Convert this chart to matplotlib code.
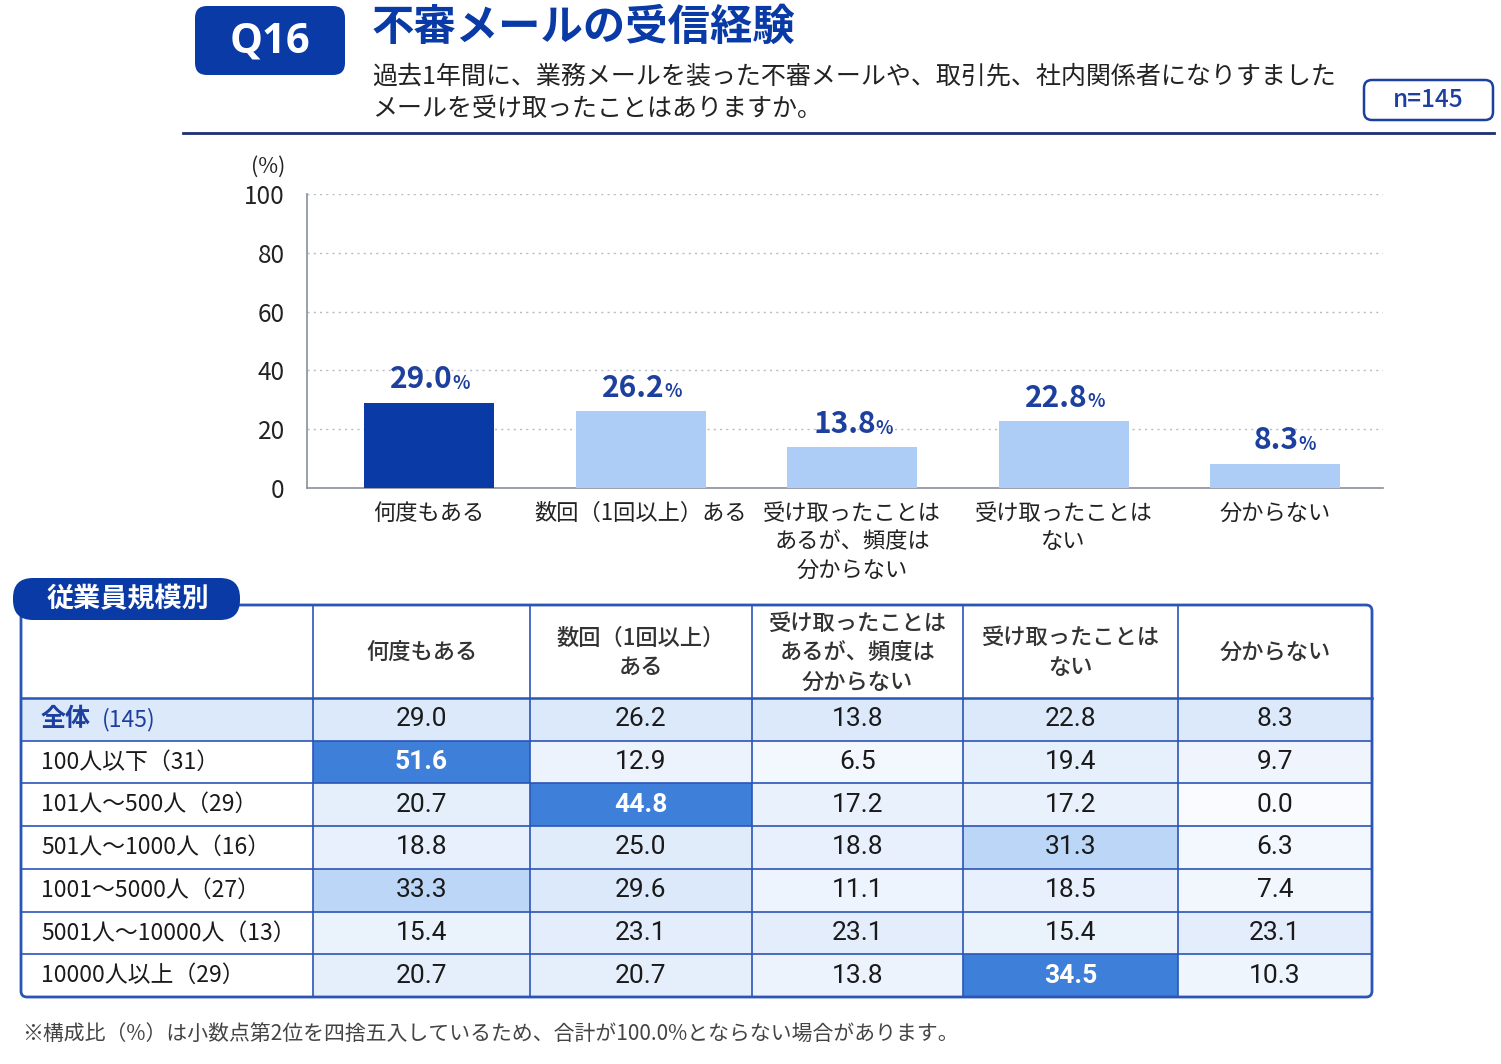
import numpy as np
import matplotlib.pyplot as plt
from matplotlib.patches import Rectangle, FancyBboxPatch

plt.rcParams['font.family'] = ['Noto Sans CJK JP', 'DejaVu Sans']

# ---- data ----
categories = ["何度もある", "数回（1回以上）ある", "受け取ったことは\nあるが、頻度は\n分からない",
              "受け取ったことは\nない", "分からない"]
overall = [29.0, 26.2, 13.8, 22.8, 8.3]
yticks = [0, 20, 40, 60, 80, 100]

col_headers = ["何度もある", "数回（1回以上）\nある", "受け取ったことは\nあるが、頻度は\n分からない",
               "受け取ったことは\nない", "分からない"]
row_labels = ["100人以下（31）", "101人～500人（29）", "501人～1000人（16）", "1001～5000人（27）",
              "5001人～10000人（13）", "10000人以上（29）"]
table_vals = np.array([
    [51.6, 12.9, 6.5, 19.4, 9.7],
    [20.7, 44.8, 17.2, 17.2, 0.0],
    [18.8, 25.0, 18.8, 31.3, 6.3],
    [33.3, 29.6, 11.1, 18.5, 7.4],
    [15.4, 23.1, 23.1, 15.4, 23.1],
    [20.7, 20.7, 13.8, 34.5, 10.3],
])

DARK = "#0a3aa6"
NAVY = "#1d3f9e"
LINE = "#2b55b5"

fig = plt.figure(figsize=(15.01, 10.64), dpi=100)
W, H = 1501, 1064

# background axes in pixel coords
ax0 = fig.add_axes([0, 0, 1, 1])
ax0.set_xlim(0, W)
ax0.set_ylim(H, 0)
ax0.axis("off")

# ---- header ----
ax0.add_patch(FancyBboxPatch((195, 6), 150, 69, boxstyle="round,pad=0,rounding_size=12",
                             fc=DARK, ec="none"))
ax0.text(270, 42, "Q16", color="white", fontsize=30, fontweight="bold", ha="center", va="center",
         family=["Open Sans", "DejaVu Sans"])
ax0.text(372, 28, "不審メールの受信経験", color=DARK, fontsize=30.5, fontweight="bold", va="center")
ax0.text(372, 76, "過去1年間に、業務メールを装った不審メールや、取引先、社内関係者になりすました",
         color="#222222", fontsize=18, va="center")
ax0.text(372, 109, "メールを受け取ったことはありますか。", color="#222222", fontsize=18, va="center")
ax0.add_patch(FancyBboxPatch((1364, 80), 129, 40, boxstyle="round,pad=0,rounding_size=8",
                             fc="white", ec=NAVY, lw=1.8))
ax0.text(1428, 100, "n=145", color=NAVY, fontsize=17.5, ha="center", va="center", fontweight="medium")
ax0.plot([183, 1494], [133, 133], color="#1c2f70", lw=2)

# ---- bar chart ----
bx0, bx1, by0, by1 = 307, 1383, 488, 194
ax = fig.add_axes([bx0 / W, 1 - by0 / H, (bx1 - bx0) / W, (by0 - by1) / H])
x = np.arange(len(categories))
colors = [DARK] + ["#aecdf6"] * (len(categories) - 1)
ax.bar(x, overall, width=0.615, color=colors, zorder=3)
ax.set_xlim(-0.577, 4.51)
ax.set_ylim(0, 100)
ax.set_yticks(yticks)
ax.set_yticklabels([str(t) for t in yticks], fontsize=17.5, color="#222222")
ax.yaxis.grid(True, linestyle=(0, (1.5, 3)), color="#b8bcc4", lw=1)
ax.set_axisbelow(True)
ax.set_xticks(x)
ax.set_xticklabels(categories, fontsize=16, color="#222222", linespacing=1.3, va="top")
ax.tick_params(axis="both", length=0, pad=10)
ax.tick_params(axis="y", pad=16)
for s in ["top", "right"]:
    ax.spines[s].set_visible(False)
ax.spines["left"].set_color("#8a8f99")
ax.spines["bottom"].set_color("#8a8f99")
ax.spines["left"].set_linewidth(1.2)
ax.spines["bottom"].set_linewidth(1.2)
for xi, v in zip(x, overall):
    ax.annotate(f"{v:.1f}", (xi, v), xytext=(17, 6), textcoords="offset points",
                ha="right", va="bottom", fontsize=21.5, fontweight="bold", color=NAVY)
    ax.annotate("%", (xi, v), xytext=(17, 7), textcoords="offset points",
                ha="left", va="bottom", fontsize=13, fontweight="bold", color=NAVY)
ax0.text(268, 167, "(%)", fontsize=15.5, ha="center", va="center", color="#222222")

# ---- table ----
col_x = [21, 313, 530, 752, 963, 1178, 1372]
top, head_bot = 605, 698
row_h = (997 - head_bot) / 7
row_y = [head_bot + i * row_h for i in range(8)]


def cell_color(v):
    if v >= 34:
        return "#3d7fd9"
    if v >= 30:
        return "#bcd6f7"
    t = v / 30
    c0 = np.array([0xf9, 0xfb, 0xff]) / 255
    c1 = np.array([0xdc, 0xe9, 0xfa]) / 255
    return tuple(c0 + (c1 - c0) * t)


# header row
ax0.add_patch(Rectangle((col_x[0], top), col_x[-1] - col_x[0], head_bot - top, fc="white", ec="none"))
for j, h in enumerate(col_headers):
    cx = (col_x[j + 1] + col_x[j + 2]) / 2
    ax0.text(cx, (top + head_bot) / 2 + 1, h, fontsize=16, ha="center", va="center",
             color="#333333", linespacing=1.35, fontweight="medium")

# overall row
ax0.add_patch(Rectangle((col_x[0], row_y[0]), col_x[-1] - col_x[0], row_h, fc="#dce9fa", ec="none"))
ax0.text(41, row_y[0] + row_h / 2, "全体", fontsize=18, fontweight="bold", color=NAVY, va="center")
ax0.text(102, row_y[0] + row_h / 2, "(145)", fontsize=16.5, color=NAVY, va="center")
for j, v in enumerate(overall):
    cx = (col_x[j + 1] + col_x[j + 2]) / 2
    ax0.text(cx, row_y[0] + row_h / 2, f"{v:.1f}", fontsize=19, ha="center", va="center",
             color="#1a1a1a", family=["Roboto", "DejaVu Sans"])

# size rows
for i, lab in enumerate(row_labels):
    y0 = row_y[i + 1]
    ax0.add_patch(Rectangle((col_x[0], y0), col_x[1] - col_x[0], row_h, fc="white", ec="none"))
    ax0.text(41, y0 + row_h / 2, lab, fontsize=16.5, color="#1a1a1a", va="center")
    for j in range(len(col_headers)):
        v = table_vals[i, j]
        ax0.add_patch(Rectangle((col_x[j + 1], y0), col_x[j + 2] - col_x[j + 1], row_h,
                                fc=cell_color(v), ec="none"))
        ax0.text((col_x[j + 1] + col_x[j + 2]) / 2, y0 + row_h / 2, f"{v:.1f}", fontsize=19,
                 ha="center", va="center", family=["Roboto", "DejaVu Sans"],
                 color="white" if v >= 34 else "#1a1a1a",
                 fontweight="bold" if v >= 34 else "normal")

# grid lines
for yy in row_y[1:-1]:
    ax0.plot([col_x[0], col_x[-1]], [yy, yy], color=LINE, lw=1.2)
ax0.plot([col_x[0], col_x[-1]], [head_bot, head_bot], color=LINE, lw=1.8)
for xx in col_x[1:-1]:
    ax0.plot([xx, xx], [top, 997], color=LINE, lw=1.2)
ax0.add_patch(FancyBboxPatch((col_x[0], top), col_x[-1] - col_x[0], 997 - top,
                             boxstyle="round,pad=0,rounding_size=6", fc="none", ec=LINE, lw=2))

# tab label
ax0.add_patch(FancyBboxPatch((13, 578), 227, 42, boxstyle="round,pad=0,rounding_size=20",
                             fc=DARK, ec="none"))
ax0.text(128, 599, "従業員規模別", color="white", fontsize=19.5, fontweight="bold", ha="center", va="center")

# footnote
ax0.text(22, 1035, "※構成比（%）は小数点第2位を四捨五入しているため、合計が100.0%とならない場合があります。",
         fontsize=15, color="#444444", va="center")

fig.savefig("out.png", dpi=100)
